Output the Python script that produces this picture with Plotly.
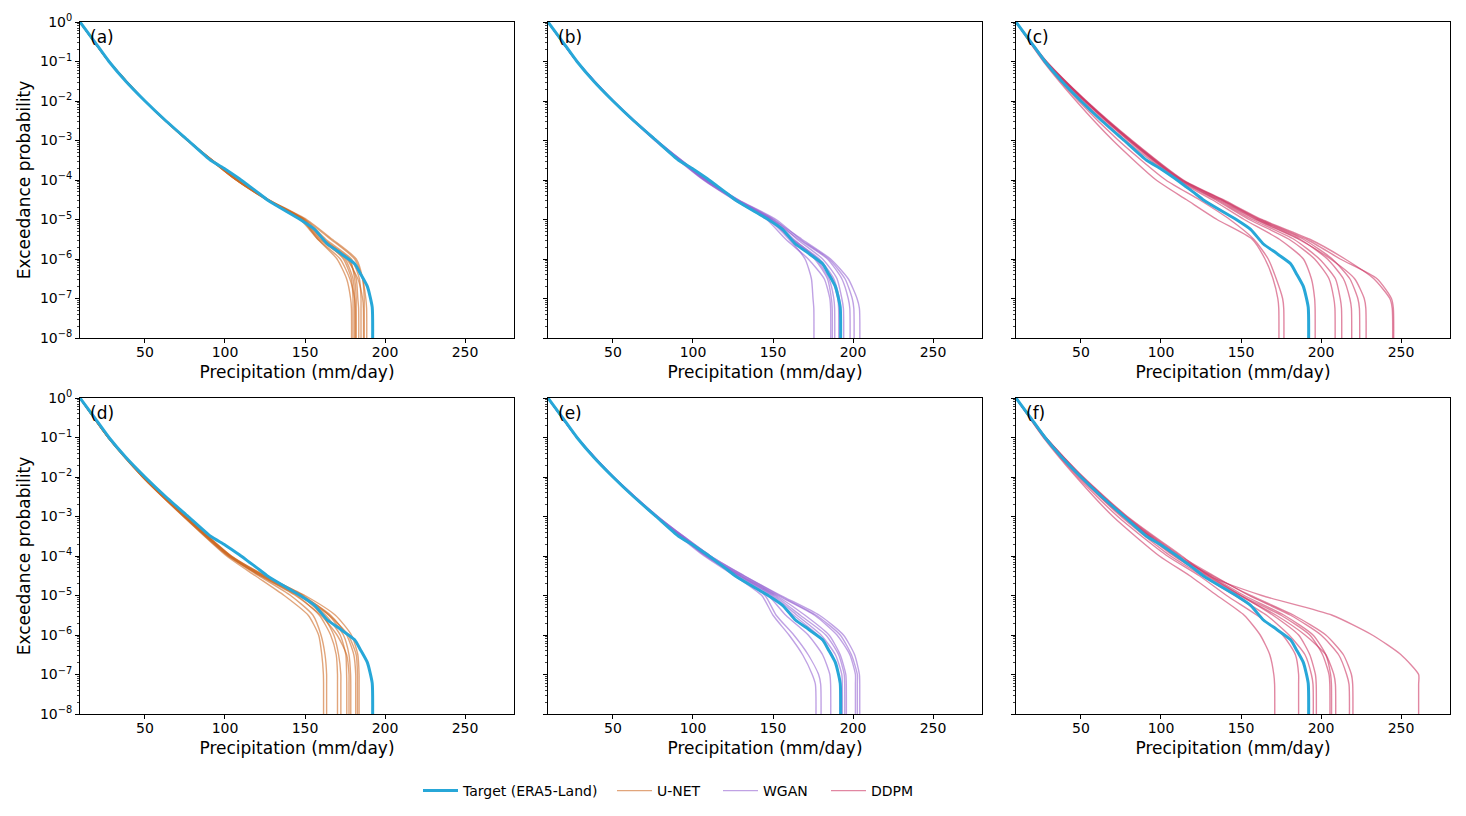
import plotly.graph_objects as go

# 확률 수준 (log10) - 모든 모델 곡선이 공유
LEVELS = [0, -1, -2, -3, -4, -4.5, -5, -5.5, -6, -6.5, -7, -7.25]

# 타깃 (ERA5-Land), 모든 패널 동일
TARGET_X = [9.4, 18, 27.5, 38, 50, 63, 77, 91, 100, 109, 115, 120, 127, 147, 156, 164, 172, 181, 185, 189, 192]
TARGET_LOGP = [0, -0.47, -1, -1.5, -2, -2.5, -3, -3.5, -3.72, -3.97, -4.15, -4.3, -4.52, -5, -5.25, -5.62, -5.85, -6.12, -6.4, -6.7, -7.22]

# 각 멤버: LEVELS 위치에서의 강수량 (mm/day)
UNET_TOP = [
    [9.4, 27.5, 50, 76.5, 107, 126, 148, 158, 170, 176, 178.5, 179],
    [9.4, 27.5, 50, 77, 107.5, 126.5, 149, 161, 174, 179, 180, 180],
    [9.4, 27.5, 50, 76.5, 107, 126, 147, 158, 172, 178, 181, 181.5],
    [9.4, 27.5, 50, 77, 107.5, 127, 149, 162, 177, 182, 183, 183.5],
    [9.4, 27.5, 50, 77, 108, 127, 150, 163, 179, 184, 185, 185],
    [9.4, 27.5, 50, 76.5, 107, 126.5, 148, 160, 176, 183, 186, 186.5],
    [9.4, 27.5, 50, 77, 108, 127.5, 150, 166, 181, 186, 188, 188.5],
    [9.4, 27.5, 50, 77, 107.5, 127, 149, 161, 178, 181, 182, 182],
    [9.4, 27.5, 50, 77, 108, 127.5, 151, 167, 182, 186, 187, 187],
    [9.4, 27.5, 50, 76.5, 107, 126, 148, 159, 175, 180, 181, 181],
]
WGAN_TOP = [
    [9.4, 27.5, 50, 76.5, 107, 126, 147, 160, 170, 174, 175, 175.5],
    [9.4, 27.5, 50, 76, 106.5, 125.5, 146, 158, 172, 182, 185.5, 186],
    [9.4, 27.5, 50, 77, 107.5, 127, 149, 161, 176, 184, 186.5, 187],
    [9.4, 27.5, 50, 77, 108, 127, 148, 162, 177, 185, 188, 188.5],
    [9.4, 27.5, 50, 77, 108, 127.5, 150, 163, 178, 187, 190.5, 191],
    [9.4, 27.5, 50.5, 77.5, 108.5, 128, 151, 165, 181, 190, 193, 194],
    [9.4, 27.5, 50, 77, 108, 127.5, 149, 166, 184, 193, 197, 198],
    [9.4, 27.5, 50.5, 77.5, 109, 128.5, 152, 167, 185, 195, 199.5, 200.5],
    [9.4, 27.5, 50, 77.5, 108.5, 128, 150, 168, 186, 197, 202.5, 204],
    [9.4, 27.5, 50, 76.5, 107, 126.5, 148, 162, 179, 188, 191.5, 192],
]
DDPM_TOP = [
    [9.4, 26.5, 47, 70, 97, 116, 135, 157, 165, 170, 173, 173.6],
    [9.4, 27, 48.5, 73.5, 103, 124, 143, 158, 167, 172, 176, 176.7],
    [9.4, 27.5, 51, 78, 110, 132, 152, 174, 189, 194, 196, 196.3],
    [9.4, 28, 52, 79.5, 111, 134, 155, 180, 196, 205, 208, 208.7],
    [9.4, 28, 52.5, 80, 112, 135, 157, 183, 199, 209, 212, 212.8],
    [9.4, 28, 53, 81, 113, 137, 160, 187, 204, 214, 218, 219],
    [9.4, 28.5, 53, 81.5, 113.5, 138, 161, 189, 207, 218, 223, 224],
    [9.4, 28, 52.5, 80.5, 112, 136, 159, 186, 206, 221, 227, 228],
    [9.4, 28.5, 53.5, 82, 114, 139, 163, 193, 215, 233, 243, 244.5],
    [9.4, 28, 53, 81, 113, 138, 162, 191, 212, 235, 244, 245.2],
]
UNET_BOTTOM = [
    [9.4, 27, 48.5, 74, 101, 119, 137, 152, 158.5, 160.5, 161.5, 161.6],
    [9.4, 27, 48.5, 74.5, 102, 121, 141, 155, 160, 162.5, 163.5, 163.5],
    [9.4, 27, 49, 75, 103, 122, 145, 159, 166, 169.5, 170.3, 170.3],
    [9.4, 27, 48.5, 74, 102, 123, 147, 161, 168, 171, 172.4, 172.4],
    [9.4, 27.5, 49, 75, 103.5, 124, 148, 163, 172, 175.5, 176, 176.1],
    [9.4, 27, 49, 75.5, 104, 125, 149, 165, 174, 177.5, 178.5, 178.6],
    [9.4, 27.5, 49.5, 76, 104, 125, 150, 169, 179, 183, 183.8, 183.8],
    [9.4, 27, 49, 75, 103, 124, 148, 166, 176, 180.5, 181.7, 181.7],
    [9.4, 27.5, 49, 75.5, 103.5, 123, 146, 165, 177, 182, 182.8, 182.8],
    [9.4, 27, 48.5, 74.5, 102.5, 122, 144, 160, 170, 176, 177.5, 177.5],
]
WGAN_BOTTOM = [
    [9.4, 27.5, 50, 76.5, 107, 126, 143, 150, 160, 168.5, 174.5, 176.5],
    [9.4, 27.5, 50, 77, 108, 127, 145, 152, 163, 172, 178.5, 179.8],
    [9.4, 27.5, 50, 77, 108, 128, 147, 158, 172, 181, 185.5, 186],
    [9.4, 27.5, 50, 77, 109, 129, 149, 163, 178, 187, 191, 191.7],
    [9.4, 27.5, 50, 77.5, 109, 129, 150, 165, 180, 189, 193, 193.3],
    [9.4, 27.5, 50.5, 77.5, 110, 130, 151, 167, 183, 191, 194.5, 194.8],
    [9.4, 27.5, 50, 77, 109, 130, 152, 170, 185, 192, 195.5, 195.8],
    [9.4, 27.5, 50.5, 78, 110, 131, 153, 176, 190, 198, 201.5, 201.5],
    [9.4, 27.5, 50.5, 78, 111, 132, 154, 177, 192, 199, 202.7, 202.7],
    [9.4, 27.5, 50.5, 78, 111, 132, 155, 179, 194, 201, 204, 204.2],
]
DDPM_BOTTOM = [
    [9.4, 26.5, 47, 70, 99, 118, 135, 152, 162, 168, 170.5, 171],
    [9.4, 27, 48, 73, 104, 124, 141, 160, 176, 184, 186, 186],
    [9.4, 27.5, 49.5, 75, 106, 126, 146, 166, 180, 190, 194, 195],
    [9.4, 27.5, 50, 77, 110, 130, 150, 175, 193, 201, 205, 205.5],
    [9.4, 28, 51, 78, 111, 131, 152, 177, 195, 203, 206, 206.5],
    [9.4, 27, 49, 76, 108, 128, 149, 172, 190, 203, 208, 209],
    [9.4, 28, 51, 78.5, 112, 133, 155, 181, 200, 211, 216, 217.5],
    [9.4, 28, 50.5, 77.5, 110, 132, 156, 183, 203, 214, 219, 219.8],
    [9.4, 28, 51.5, 79, 113, 130, 163, 207, 232, 250, 261, 261],
    [9.4, 27.5, 50, 77, 109, 129, 150, 170, 186, 193, 196.5, 197],
]

PANEL_LABELS = ['(a)', '(b)', '(c)', '(d)', '(e)', '(f)']
X_TICKS = [50, 100, 150, 200, 250]
Y_TICKS = [0, -1, -2, -3, -4, -5, -6, -7, -8]
MODELS = ['Target (ERA5-Land)', 'U-NET', 'WGAN', 'DDPM']

COLORS = {
    'Target (ERA5-Land)': '#27a7d8',
    'U-NET': 'rgba(205,105,35,0.6)',
    'WGAN': 'rgba(150,100,210,0.6)',
    'DDPM': 'rgba(205,55,100,0.6)',
}

# 패널 배치 (model, members)
panels = [
    ('U-NET', UNET_TOP), ('WGAN', WGAN_TOP), ('DDPM', DDPM_TOP),
    ('U-NET', UNET_BOTTOM), ('WGAN', WGAN_BOTTOM), ('DDPM', DDPM_BOTTOM),
]

# 브라우저 body 여백(8px) 보정
PAD = 8
W, H = 1466 - PAD, 816 - PAD
col_px = [(80, 514), (548, 982), (1016, 1450)]
row_px = [(22, 338), (398, 714)]
legend_px = [426, 620, 726, 834]  # 범례 항목별 시작 위치

fig = go.Figure()
shown = set()


def legend_ref(model):
    k = MODELS.index(model)
    return 'legend' if k == 0 else f'legend{k + 1}'


for i, (model, members) in enumerate(panels):
    n = i + 1
    xa = 'x' if n == 1 else f'x{n}'
    ya = 'y' if n == 1 else f'y{n}'
    for m in members:
        # 마지막 값에서 수직으로 축 아래까지 떨어짐
        xs = m + [m[-1]]
        ys = [10 ** v for v in LEVELS] + [1e-9]
        fig.add_trace(go.Scatter(
            x=xs, y=ys, mode='lines', xaxis=xa, yaxis=ya,
            line=dict(color=COLORS[model], width=1.4, shape='spline', smoothing=0.6),
            name=model, legend=legend_ref(model),
            showlegend=model not in shown, hoverinfo='skip'))
        shown.add(model)
    fig.add_trace(go.Scatter(
        x=TARGET_X + [TARGET_X[-1]], y=[10 ** v for v in TARGET_LOGP] + [1e-9],
        mode='lines', xaxis=xa, yaxis=ya,
        line=dict(color=COLORS['Target (ERA5-Land)'], width=3, shape='spline', smoothing=0.5),
        name='Target (ERA5-Land)', legend='legend',
        showlegend=(i == 0), hoverinfo='skip'))

    r, c = divmod(i, 3)
    x0, x1 = [p - PAD for p in col_px[c]]
    y0, y1 = [p - PAD for p in row_px[r]]
    axis_style = dict(showline=True, linecolor='black', linewidth=1, mirror=True, automargin=False,
                      showgrid=False, zeroline=False, ticks='outside', tickcolor='black')
    fig.layout[f'xaxis{"" if n == 1 else n}'] = dict(
        domain=[x0 / W, x1 / W], anchor=ya, range=[9.4, 280.6],
        tickvals=X_TICKS, ticklen=4, tickfont=dict(size=14, color='black'), ticklabelstandoff=-3,
        title=dict(text='Precipitation (mm/day)', font=dict(size=17, color='black'), standoff=7),
        **axis_style)
    yaxis = dict(
        domain=[1 - y1 / H, 1 - y0 / H], anchor=xa, type='log', range=[-8, 0],
        dtick=1, showticklabels=(c == 0),
        ticklen=4, tickfont=dict(size=14, color='black'),
        minor=dict(ticks='outside', ticklen=2, dtick='D1', tickcolor='#444'),
        **axis_style)
    if c == 0:
        yaxis['tickvals'] = [10 ** v for v in Y_TICKS]
        yaxis['ticktext'] = [f'10<sup>{"−" if v < 0 else ""}{abs(v)}</sup>' for v in Y_TICKS]
        yaxis['title'] = dict(text='Exceedance probability', font=dict(size=17, color='black'), standoff=4)
    fig.layout[f'yaxis{"" if n == 1 else n}'] = yaxis
    fig.add_annotation(text=PANEL_LABELS[i], xref=f'{xa} domain', yref=f'{ya} domain',
                       x=0.018, y=0.952, xanchor='left', yanchor='middle', showarrow=False,
                       font=dict(size=17, color='black'))

fig.update_layout(
    width=W, height=H, margin=dict(l=0, r=0, t=0, b=0, autoexpand=False),
    plot_bgcolor='white', paper_bgcolor='white',
    font=dict(family='DejaVu Sans', color='black'),
)
for k, model in enumerate(MODELS):
    key = 'legend' if k == 0 else f'legend{k + 1}'
    fig.layout[key] = dict(orientation='h', x=(legend_px[k] - 2 * PAD) / W, xanchor='left',
                           y=1 - (791 - PAD) / H, yanchor='middle', font=dict(size=14),
                           itemwidth=35, bgcolor='rgba(0,0,0,0)')

fig.write_html("out.html")
